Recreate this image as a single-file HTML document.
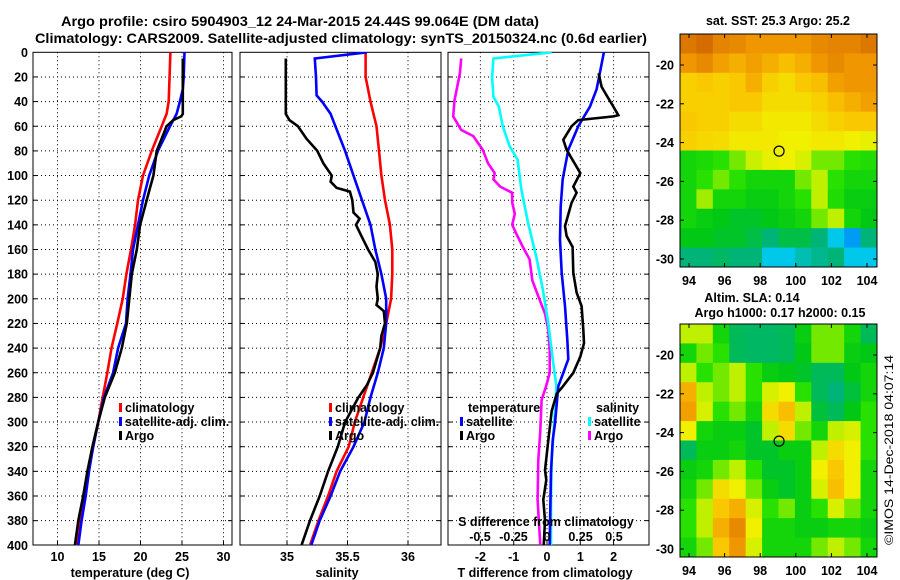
<!DOCTYPE html>
<html><head><meta charset="utf-8"><style>
html,body{margin:0;padding:0;background:#fff;}
svg{display:block;font-family:"Liberation Sans",Arial,sans-serif;font-weight:bold;}
</style></head><body>
<svg id="chart" width="900" height="580" viewBox="0 0 900 580" xmlns="http://www.w3.org/2000/svg">
<rect width="900" height="580" fill="#fff"/>
<defs>
<clipPath id="c1"><rect x="33" y="52" width="199" height="493"/></clipPath>
<clipPath id="c2"><rect x="240" y="52" width="201" height="493"/></clipPath>
<clipPath id="c3"><rect x="448" y="52" width="201" height="493"/></clipPath>
</defs>
<text x="300" y="26" font-size="13.5" text-anchor="middle" textLength="478" lengthAdjust="spacingAndGlyphs">Argo profile: csiro 5904903_12 24-Mar-2015 24.44S 99.064E (DM data)</text>
<text x="341" y="43" font-size="13.5" text-anchor="middle" textLength="612" lengthAdjust="spacingAndGlyphs">Climatology: CARS2009. Satellite-adjusted climatology: synTS_20150324.nc (0.6d earlier)</text>
<g id="grid"></g>
<g id="marks"></g>
<g id="labels" font-size="12.5"></g>
<g id="maps"></g>
<text font-size="12" font-weight="normal" transform="translate(893,450) rotate(-90)" text-anchor="middle" textLength="190" lengthAdjust="spacingAndGlyphs">©IMOS 14-Dec-2018 04:07:14</text>
</svg>
<script>
// ---------- profile data ----------
const depthTick = [0,20,40,60,80,100,120,140,160,180,200,220,240,260,280,300,320,340,360,380,400];
const tempTicks = [10,15,20,25,30];
const salTicks = [35,35.5,36];
const salTickLabels = ["35","35.5","36"];
const dTTicks = [-2,-1,0,1,2];
const dSTicks = [-0.5,-0.25,0,0.25,0.5];
const dSTickLabels = ["-0.5","-0.25","0","0.25","0.5"];

const tClimDepth = [0,40,50,60,80,100,120,140,160,180,200,220,240,260,280,300,320,340,360,380,400];
const tClimVal = [23.6,23.4,23.15,22.55,21.35,20.3,19.7,19.35,18.85,18.3,17.85,17.2,16.5,16.0,15.45,14.9,14.3,13.7,13.2,12.7,12.3];
const tSatDepth = [0,20,30,40,50,60,80,100,120,140,160,180,200,220,240,260,280,300,320,340,360,380,400];
const tSatVal = [25.3,25.2,25.1,24.75,24.35,23.55,22.1,21.05,20.3,19.7,19.1,18.8,18.45,18.25,17.3,16.7,15.6,14.9,14.3,13.8,13.4,12.9,12.5];
const tArgoDepth = [5,50,52,55,60,70,80,100,110,120,140,160,180,200,220,240,260,280,300,320,340,360,380,400];
const tArgoVal = [25.1,25.1,24.9,23.95,23.15,22.55,21.95,21.55,21.15,20.75,19.95,19.55,18.95,18.65,18.35,17.75,16.9,15.7,14.9,14.2,13.6,13.1,12.5,12.1];

const sClimDepth = [0,20,40,60,80,100,120,140,160,180,200,220,240,260,280,300,320,340,360,380,400];
const sClimVal = [35.65,35.65,35.69,35.74,35.76,35.78,35.81,35.85,35.87,35.87,35.86,35.82,35.77,35.70,35.63,35.56,35.51,35.41,35.34,35.26,35.19];
const sSatDepth = [0,5,20,35,40,50,60,80,100,120,140,160,180,200,220,240,260,280,300,320,340,360,380,400];
const sSatVal = [35.66,35.23,35.24,35.245,35.29,35.36,35.40,35.48,35.55,35.62,35.69,35.73,35.78,35.82,35.82,35.80,35.75,35.69,35.64,35.55,35.44,35.36,35.27,35.20];
const sArgoDepth = [5,50,55,60,70,80,90,100,105,110,113,120,130,135,140,150,160,170,180,190,200,205,210,220,230,240,260,270,280,300,320,340,360,380,400];
const sArgoVal = [34.99,34.99,35.02,35.09,35.16,35.25,35.30,35.37,35.36,35.41,35.52,35.54,35.55,35.60,35.57,35.62,35.67,35.73,35.75,35.74,35.75,35.74,35.80,35.81,35.78,35.77,35.71,35.66,35.59,35.48,35.42,35.34,35.27,35.19,35.12];

const dTSatDepth = [0,19,30,44,60,79,103,125,152,179,206,233,249,260,271,301,315,340,370,400];
const dTSatVal = [1.71,1.57,1.49,1.29,0.94,0.64,0.47,0.41,0.39,0.44,0.54,0.61,0.64,0.49,0.34,0.24,0.17,0.12,0.1,0.08];
const dTArgoDepth = [17,28,35,44,51,52,55,60,71,79,86,98,109,114,122,141,149,158,179,195,206,225,236,247,260,272,277,291,315,339,347,363,380,400];
const dTArgoVal = [1.55,1.64,1.79,1.99,2.14,2.0,0.94,0.74,0.49,0.59,0.74,1.0,0.79,0.89,0.74,0.54,0.59,0.77,0.79,0.89,1.04,1.09,1.11,1.0,0.79,0.45,0.29,0.14,0.04,-0.06,-0.02,-0.11,-0.06,-0.1];
const dSSatDepth = [0,5,20,36,44,60,76,87,112,139,166,193,220,247,271,298,331,363,400];
const dSSatVal = [0.035,-0.40,-0.41,-0.40,-0.36,-0.33,-0.28,-0.22,-0.19,-0.14,-0.08,-0.03,0.01,0.04,0.07,0.055,0.035,0.03,0.03];
const dSArgoDepth = [5,17,39,52,63,68,79,90,98,103,109,114,122,131,140,147,158,168,185,198,212,225,241,260,271,282,307,331,363,400];
const dSArgoVal = [-0.64,-0.65,-0.69,-0.70,-0.64,-0.55,-0.48,-0.44,-0.39,-0.40,-0.35,-0.26,-0.26,-0.24,-0.26,-0.23,-0.18,-0.13,-0.11,-0.065,-0.015,0.01,0.02,0.02,-0.007,-0.04,-0.05,-0.065,-0.07,-0.05];

// ---------- map data (12x12, rows lat -18.5..-30.5, cols lon 93.5..104.6; normalised colour value) ----------
const lonTicks = [94,96,98,100,102,104];
const latTicks = [-20,-22,-24,-26,-28,-30];
const sstGrid = [
[0.95,0.97,0.93,0.92,0.9,0.9,0.9,0.9,0.92,0.93,0.93,0.95],
[0.9,0.92,0.88,0.85,0.88,0.85,0.82,0.85,0.9,0.92,0.9,0.9],
[0.78,0.8,0.78,0.8,0.85,0.78,0.75,0.8,0.82,0.88,0.9,0.9],
[0.78,0.78,0.78,0.8,0.8,0.75,0.75,0.75,0.78,0.82,0.85,0.88],
[0.8,0.78,0.78,0.75,0.75,0.72,0.72,0.72,0.75,0.78,0.8,0.8],
[0.78,0.76,0.75,0.72,0.72,0.72,0.7,0.7,0.72,0.72,0.7,0.68],
[0.45,0.47,0.5,0.55,0.62,0.68,0.7,0.65,0.55,0.55,0.5,0.48],
[0.45,0.5,0.55,0.5,0.45,0.45,0.45,0.55,0.6,0.5,0.45,0.45],
[0.45,0.58,0.45,0.45,0.42,0.42,0.45,0.5,0.6,0.48,0.42,0.42],
[0.45,0.42,0.4,0.38,0.38,0.4,0.42,0.45,0.55,0.6,0.45,0.4],
[0.4,0.4,0.38,0.38,0.35,0.3,0.35,0.35,0.3,0.2,0.15,0.3],
[0.3,0.3,0.32,0.3,0.3,0.2,0.2,0.25,0.28,0.3,0.2,0.2]];
const slaGrid = [
[0.6,0.6,0.45,0.33,0.32,0.32,0.33,0.42,0.55,0.55,0.45,0.33],
[0.45,0.55,0.5,0.33,0.32,0.32,0.33,0.4,0.55,0.55,0.42,0.4],
[0.6,0.5,0.55,0.6,0.5,0.42,0.4,0.38,0.33,0.33,0.4,0.45],
[0.85,0.6,0.55,0.6,0.5,0.65,0.7,0.5,0.33,0.3,0.36,0.45],
[0.88,0.65,0.5,0.55,0.45,0.75,0.82,0.6,0.36,0.33,0.4,0.5],
[0.7,0.45,0.42,0.42,0.38,0.6,0.75,0.55,0.45,0.6,0.65,0.5],
[0.33,0.42,0.42,0.45,0.38,0.38,0.42,0.42,0.6,0.75,0.7,0.5],
[0.42,0.45,0.55,0.6,0.5,0.38,0.38,0.42,0.7,0.8,0.7,0.45],
[0.45,0.55,0.75,0.7,0.55,0.42,0.38,0.42,0.65,0.82,0.7,0.45],
[0.5,0.6,0.8,0.85,0.65,0.5,0.55,0.42,0.5,0.65,0.55,0.45],
[0.5,0.6,0.85,0.92,0.7,0.45,0.45,0.42,0.42,0.45,0.45,0.42],
[0.45,0.55,0.8,0.9,0.65,0.45,0.45,0.45,0.55,0.6,0.55,0.45]];
const argoLon = 99.06, argoLat = -24.44;

// ---------- scales ----------
const Y0 = 52.3, YK = 1.2325;
const yD = d => Y0 + d*YK;
const xT = t => 99 + (t-15)*8.3;
const xS = s => 287 + (s-35)*121;
const xDT = v => 547 + v*33.3;
const xDS = v => 547 + v*134;
const mapX = lon => 689 + (lon-94)*17.8;
const mapYtop = lat => 65 + (-20-lat)*19.4;
const mapYbot = lat => 355 + (-20-lat)*19.4;

const NS = "http://www.w3.org/2000/svg";
function mk(tag, parent, attrs){const e=document.createElementNS(NS,tag);for(const k in attrs)e.setAttribute(k,attrs[k]);parent.appendChild(e);return e;}
const grid = document.getElementById('grid');
const marks = document.getElementById('marks');
const labels = document.getElementById('labels');
const maps = document.getElementById('maps');

const panels = [
 {x0:33,x1:232,vt:tempTicks.map(xT),name:'temperature-panel'},
 {x0:240,x1:441,vt:salTicks.map(xS),name:'salinity-panel'},
 {x0:448,x1:649,vt:dTTicks.map(xDT),name:'difference-panel'}];
panels.forEach(p=>{
  depthTick.slice(1,-1).forEach(d=>{
    const l=mk('line',grid,{x1:p.x0,x2:p.x1,y1:yD(d),y2:yD(d),stroke:'#000','stroke-width':1,'stroke-dasharray':'1,3'});
    
    
    mk('line',grid,{x1:p.x0,x2:p.x0+4,y1:yD(d),y2:yD(d),stroke:'#000'});
    mk('line',grid,{x1:p.x1-4,x2:p.x1,y1:yD(d),y2:yD(d),stroke:'#000'});
  });
  p.vt.forEach(x=>{
    const l=mk('line',grid,{x1:x,x2:x,y1:Y0,y2:545,stroke:'#000','stroke-width':1,'stroke-dasharray':'1,3'});
    
    
    mk('line',grid,{x1:x,x2:x,y1:541,y2:545,stroke:'#000'});
  });
  const r=mk('rect',grid,{x:p.x0,y:Y0,width:p.x1-p.x0,height:545-Y0,fill:'none',stroke:'#000','stroke-width':1});
  
  
});

function line(depths, vals, xf, color, clip, name){
  const pts = depths.map((d,i)=>xf(vals[i]).toFixed(1)+','+yD(d).toFixed(1)).join(' ');
  const e = mk('polyline',marks,{points:pts,fill:'none',stroke:color,'stroke-width':2.6,'stroke-linejoin':'miter','clip-path':'url(#'+clip+')'});
  
  
}
line(tClimDepth,tClimVal,xT,'#ff0000','c1','temp-climatology-line');
line(tSatDepth,tSatVal,xT,'#0000ff','c1','temp-satellite-line');
line(tArgoDepth,tArgoVal,xT,'#000','c1','temp-argo-line');
line(sClimDepth,sClimVal,xS,'#ff0000','c2','sal-climatology-line');
line(sSatDepth,sSatVal,xS,'#0000ff','c2','sal-satellite-line');
line(sArgoDepth,sArgoVal,xS,'#000','c2','sal-argo-line');
line(dSArgoDepth,dSArgoVal,xDS,'#ff00ff','c3','sdiff-argo-line');
line(dSSatDepth,dSSatVal,xDS,'#00ffff','c3','sdiff-satellite-line');
line(dTSatDepth,dTSatVal,xDT,'#0000ff','c3','tdiff-satellite-line');
line(dTArgoDepth,dTArgoVal,xDT,'#000','c3','tdiff-argo-line');

function txt(x,y,s,name,opts){
  const e=mk('text',labels,Object.assign({x:x,y:y},opts||{}));
  e.textContent=s;
  
  
  return e;
}
depthTick.forEach(d=>txt(28,yD(d)+4.5,String(d),'depth-tick-label',{'text-anchor':'end'}));
tempTicks.forEach(t=>txt(xT(t),561,String(t),'temp-tick-label',{'text-anchor':'middle'}));
salTicks.forEach((s,i)=>txt(xS(s),561,salTickLabels[i],'salinity-tick-label',{'text-anchor':'middle'}));
dTTicks.forEach(t=>txt(xDT(t),561,String(t),'tdiff-tick-label',{'text-anchor':'middle'}));
dSTicks.forEach((s,i)=>txt(xDS(s),541,dSTickLabels[i],'sdiff-tick-label',{'text-anchor':'middle'}));
txt(130,577,'temperature (deg C)','temp-axis-title',{'text-anchor':'middle'});
txt(337,577,'salinity','salinity-axis-title',{'text-anchor':'middle'});
txt(545,577,'T difference from climatology','tdiff-axis-title',{'text-anchor':'middle'});
txt(546,526,'S difference from climatology','sdiff-axis-title',{'text-anchor':'middle'});

function legend(x,y,color,label,name){
  const r=mk('rect',labels,{x:x,y:y-9,width:3,height:9,fill:color});
  
  
  txt(x+6,y,label,name);
}
legend(119,412,'#ff0000','climatology','legend-climatology');
legend(119,426,'#0000ff','satellite-adj. clim.','legend-satellite');
legend(119,440,'#000','Argo','legend-argo');
legend(329,412,'#ff0000','climatology','legend2-climatology');
legend(329,426,'#0000ff','satellite-adj. clim.','legend2-satellite');
legend(329,440,'#000','Argo','legend2-argo');
txt(468,412,'temperature','legend-temperature-heading');
legend(460,426,'#0000ff','satellite','legend-t-satellite');
legend(460,440,'#000','Argo','legend-t-argo');
txt(596,412,'salinity','legend-salinity-heading');
legend(588,426,'#00ffff','satellite','legend-s-satellite');
legend(588,440,'#ff00ff','Argo','legend-s-argo');

// ---------- maps ----------
const cstops=[[0,[0,0,220]],[0.1,[0,110,255]],[0.2,[0,200,235]],[0.3,[0,180,120]],[0.4,[0,200,20]],[0.5,[40,225,0]],[0.6,[190,240,0]],[0.7,[240,240,0]],[0.8,[250,200,0]],[0.9,[240,150,0]],[1,[200,90,0]]];
function cmap(v){
  v=Math.max(0,Math.min(1,v));
  for(let i=1;i<cstops.length;i++){if(v<=cstops[i][0]){const a=cstops[i-1],b=cstops[i];const f=(v-a[0])/(b[0]-a[0]);const c=a[1].map((q,k)=>Math.round(q+(b[1][k]-q)*f));return 'rgb('+c.join(',')+')';}}
  return 'rgb(200,90,0)';
}
function drawMap(gridv, top, yf, name, titleLines){
  const g=mk('g',maps,{});
  
  
  const left=680,w=197,h=233;
  const cw=w/gridv[0].length, ch=h/gridv.length;
  gridv.forEach((row,r)=>row.forEach((v,c)=>{
    const cell=mk('rect',g,{x:(left+c*cw).toFixed(2),y:(top+r*ch).toFixed(2),width:(cw+0.5).toFixed(2),height:(ch+0.5).toFixed(2),fill:cmap(v)});
    
    
  }));
  mk('rect',g,{x:left,y:top,width:w,height:h,fill:'none',stroke:'#000','stroke-width':1});
  const ci=mk('circle',g,{cx:mapX(argoLon),cy:yf(argoLat),r:5,fill:'none',stroke:'#000','stroke-width':1.2});
  
  
  lonTicks.forEach(l=>{
    mk('line',g,{x1:mapX(l),x2:mapX(l),y1:top+h,y2:top+h-4,stroke:'#000'});
    mk('line',g,{x1:mapX(l),x2:mapX(l),y1:top,y2:top+4,stroke:'#000'});
    txt(mapX(l),top+h+18,String(l),'map-lon-label',{'text-anchor':'middle'});
  });
  latTicks.forEach(l=>{
    mk('line',g,{x1:left,x2:left+4,y1:yf(l),y2:yf(l),stroke:'#000'});
    mk('line',g,{x1:left+w,x2:left+w-4,y1:yf(l),y2:yf(l),stroke:'#000'});
    txt(674,yf(l)+4.5,String(l),'map-lat-label',{'text-anchor':'end'});
  });
  titleLines.forEach(t=>txt(t[0],t[1],t[2],name+'-title',{'text-anchor':'middle'}));
}
drawMap(sstGrid,34,mapYtop,'sst-map',[[778,25,'sat. SST: 25.3 Argo: 25.2']]);
drawMap(slaGrid,324,mapYbot,'sla-map',[[752,302,'Altim. SLA: 0.14'],[780,317,'Argo h1000: 0.17 h2000: 0.15']]);
</script>
</body></html>
